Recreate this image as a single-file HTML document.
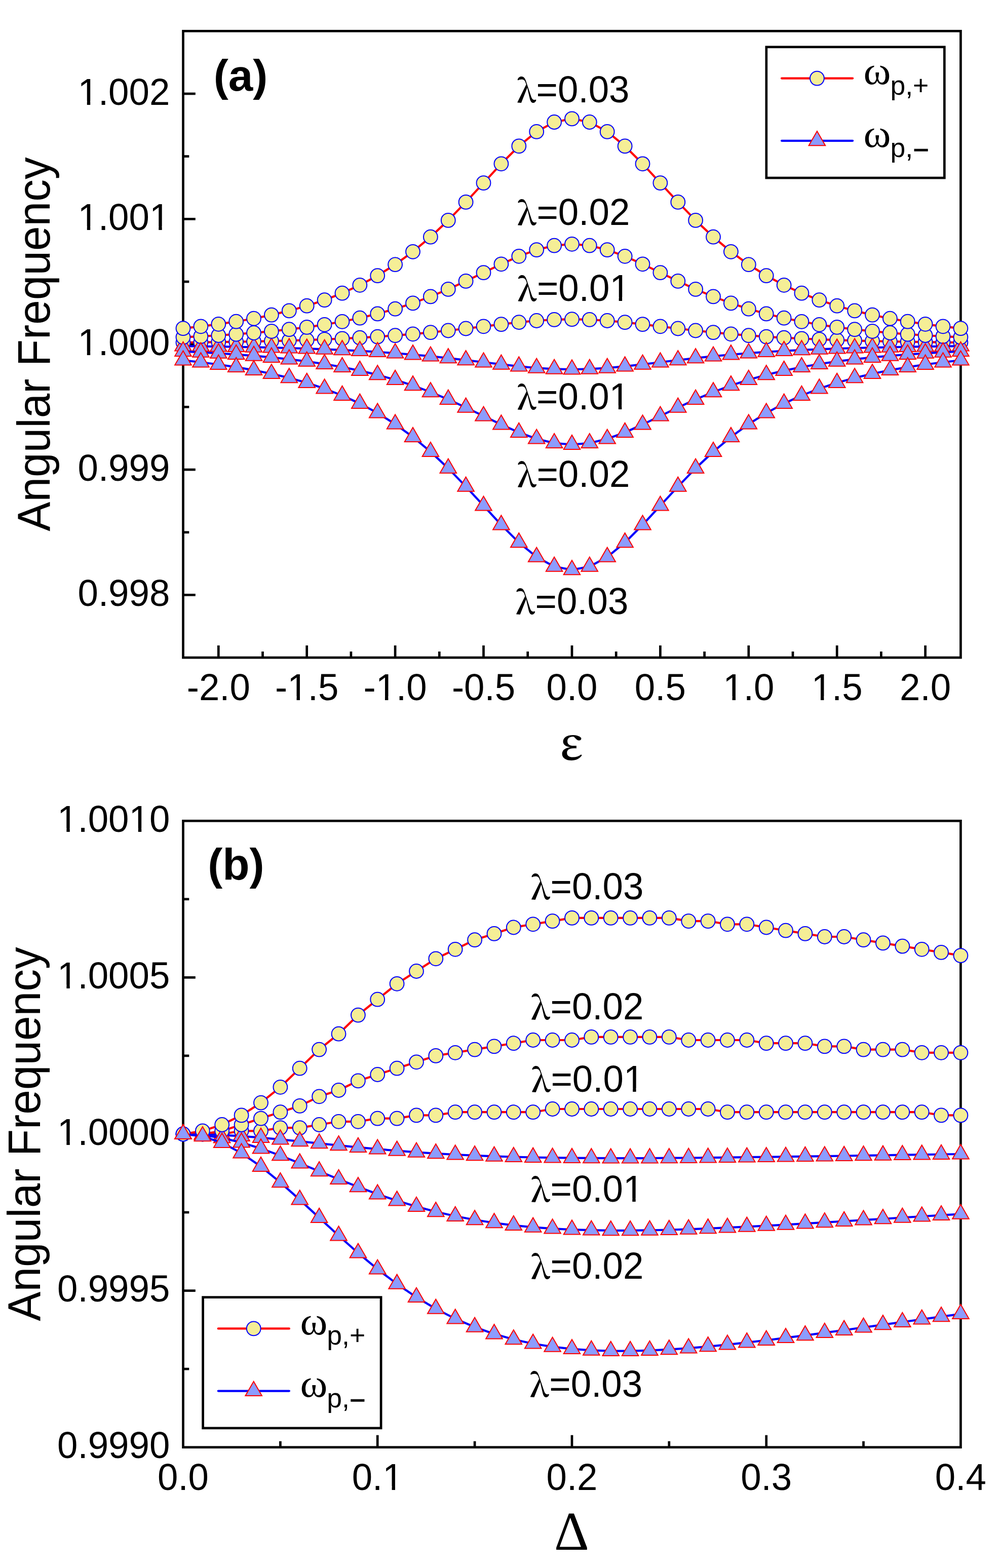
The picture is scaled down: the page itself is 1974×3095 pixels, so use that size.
<!DOCTYPE html>
<html><head><meta charset="utf-8"><title>Angular Frequency</title>
<style>html,body{margin:0;padding:0;background:#fff;}svg{display:block;}</style>
</head><body>
<svg width="1974" height="3095" viewBox="0 0 1974 3095">
<rect width="1974" height="3095" fill="#fff"/>
<g stroke="#000" stroke-width="4.7" fill="none" stroke-linecap="butt">
<line x1="361.5" y1="185.0" x2="385.8" y2="185.0"/>
<line x1="361.5" y1="432.3" x2="385.8" y2="432.3"/>
<line x1="361.5" y1="679.6" x2="385.8" y2="679.6"/>
<line x1="361.5" y1="927.0" x2="385.8" y2="927.0"/>
<line x1="361.5" y1="1174.3" x2="385.8" y2="1174.3"/>
<line x1="361.5" y1="308.6" x2="373.3" y2="308.6"/>
<line x1="361.5" y1="556.0" x2="373.3" y2="556.0"/>
<line x1="361.5" y1="803.3" x2="373.3" y2="803.3"/>
<line x1="361.5" y1="1050.7" x2="373.3" y2="1050.7"/>
<line x1="431.3" y1="1298.0" x2="431.3" y2="1274.0"/>
<line x1="605.7" y1="1298.0" x2="605.7" y2="1274.0"/>
<line x1="780.1" y1="1298.0" x2="780.1" y2="1274.0"/>
<line x1="954.5" y1="1298.0" x2="954.5" y2="1274.0"/>
<line x1="1129.0" y1="1298.0" x2="1129.0" y2="1274.0"/>
<line x1="1303.4" y1="1298.0" x2="1303.4" y2="1274.0"/>
<line x1="1477.8" y1="1298.0" x2="1477.8" y2="1274.0"/>
<line x1="1652.2" y1="1298.0" x2="1652.2" y2="1274.0"/>
<line x1="1826.6" y1="1298.0" x2="1826.6" y2="1274.0"/>
<line x1="518.5" y1="1298.0" x2="518.5" y2="1286.0"/>
<line x1="692.9" y1="1298.0" x2="692.9" y2="1286.0"/>
<line x1="867.3" y1="1298.0" x2="867.3" y2="1286.0"/>
<line x1="1041.7" y1="1298.0" x2="1041.7" y2="1286.0"/>
<line x1="1216.2" y1="1298.0" x2="1216.2" y2="1286.0"/>
<line x1="1390.6" y1="1298.0" x2="1390.6" y2="1286.0"/>
<line x1="1565.0" y1="1298.0" x2="1565.0" y2="1286.0"/>
<line x1="1739.4" y1="1298.0" x2="1739.4" y2="1286.0"/>
<rect x="361.5" y="61.3" width="1534.9" height="1236.7"/>
</g>
<text transform="translate(335.4,206.6) scale(1.0,1.015)" font-family="Liberation Sans, Arial, sans-serif" font-size="72.7" font-weight="normal" text-anchor="end" >1.002</text>
<g transform="translate(335.4,206.6) scale(1.0,1.015)" fill="#fff"><rect x="-177.99" y="-7.10" width="14.38" height="8.70"/><rect x="-157.19" y="-7.10" width="13.81" height="8.70"/></g>
<text transform="translate(335.4,453.9) scale(1.0,1.015)" font-family="Liberation Sans, Arial, sans-serif" font-size="72.7" font-weight="normal" text-anchor="end" >1.001</text>
<g transform="translate(335.4,453.9) scale(1.0,1.015)" fill="#fff"><rect x="-177.99" y="-7.10" width="14.38" height="8.70"/><rect x="-157.19" y="-7.10" width="13.81" height="8.70"/><rect x="-36.53" y="-7.10" width="14.38" height="8.70"/><rect x="-15.72" y="-7.10" width="13.81" height="8.70"/></g>
<text transform="translate(335.4,701.2) scale(1.0,1.015)" font-family="Liberation Sans, Arial, sans-serif" font-size="72.7" font-weight="normal" text-anchor="end" >1.000</text>
<g transform="translate(335.4,701.2) scale(1.0,1.015)" fill="#fff"><rect x="-177.99" y="-7.10" width="14.38" height="8.70"/><rect x="-157.19" y="-7.10" width="13.81" height="8.70"/></g>
<text transform="translate(335.4,948.6) scale(1.0,1.015)" font-family="Liberation Sans, Arial, sans-serif" font-size="72.7" font-weight="normal" text-anchor="end" >0.999</text>
<text transform="translate(335.4,1195.9) scale(1.0,1.015)" font-family="Liberation Sans, Arial, sans-serif" font-size="72.7" font-weight="normal" text-anchor="end" >0.998</text>
<text transform="translate(431.3,1381.8) scale(1.0,1.015)" font-family="Liberation Sans, Arial, sans-serif" font-size="72.7" font-weight="normal" text-anchor="middle" >-2.0</text>
<text transform="translate(605.7,1381.8) scale(1.0,1.015)" font-family="Liberation Sans, Arial, sans-serif" font-size="72.7" font-weight="normal" text-anchor="middle" >-1.5</text>
<g transform="translate(605.7,1381.8) scale(1.0,1.015)" fill="#fff"><rect x="-34.53" y="-7.10" width="14.38" height="8.70"/><rect x="-13.73" y="-7.10" width="13.81" height="8.70"/></g>
<text transform="translate(780.1,1381.8) scale(1.0,1.015)" font-family="Liberation Sans, Arial, sans-serif" font-size="72.7" font-weight="normal" text-anchor="middle" >-1.0</text>
<g transform="translate(780.1,1381.8) scale(1.0,1.015)" fill="#fff"><rect x="-34.53" y="-7.10" width="14.38" height="8.70"/><rect x="-13.73" y="-7.10" width="13.81" height="8.70"/></g>
<text transform="translate(954.5,1381.8) scale(1.0,1.015)" font-family="Liberation Sans, Arial, sans-serif" font-size="72.7" font-weight="normal" text-anchor="middle" >-0.5</text>
<text transform="translate(1129.0,1381.8) scale(1.0,1.015)" font-family="Liberation Sans, Arial, sans-serif" font-size="72.7" font-weight="normal" text-anchor="middle" >0.0</text>
<text transform="translate(1303.4,1381.8) scale(1.0,1.015)" font-family="Liberation Sans, Arial, sans-serif" font-size="72.7" font-weight="normal" text-anchor="middle" >0.5</text>
<text transform="translate(1477.8,1381.8) scale(1.0,1.015)" font-family="Liberation Sans, Arial, sans-serif" font-size="72.7" font-weight="normal" text-anchor="middle" >1.0</text>
<g transform="translate(1477.8,1381.8) scale(1.0,1.015)" fill="#fff"><rect x="-46.62" y="-7.10" width="14.38" height="8.70"/><rect x="-25.82" y="-7.10" width="13.81" height="8.70"/></g>
<text transform="translate(1652.2,1381.8) scale(1.0,1.015)" font-family="Liberation Sans, Arial, sans-serif" font-size="72.7" font-weight="normal" text-anchor="middle" >1.5</text>
<g transform="translate(1652.2,1381.8) scale(1.0,1.015)" fill="#fff"><rect x="-46.62" y="-7.10" width="14.38" height="8.70"/><rect x="-25.82" y="-7.10" width="13.81" height="8.70"/></g>
<text transform="translate(1826.6,1381.8) scale(1.0,1.015)" font-family="Liberation Sans, Arial, sans-serif" font-size="72.7" font-weight="normal" text-anchor="middle" >2.0</text>
<polyline points="361.5,676.1 396.4,675.7 431.3,675.2 466.2,674.7 501.0,674.0 535.9,673.2 570.8,672.3 605.7,671.2 640.6,669.9 675.5,668.4 710.3,666.7 745.2,664.6 780.1,662.2 815.0,659.3 849.9,656.1 884.8,652.5 919.6,648.5 954.5,644.3 989.4,640.1 1024.3,636.2 1059.2,633.0 1094.1,630.9 1129.0,630.2 1163.8,630.9 1198.7,633.0 1233.6,636.2 1268.5,640.1 1303.4,644.3 1338.3,648.5 1373.1,652.5 1408.0,656.1 1442.9,659.3 1477.8,662.2 1512.7,664.6 1547.6,666.7 1582.4,668.4 1617.3,669.9 1652.2,671.2 1687.1,672.3 1722.0,673.2 1756.9,674.0 1791.7,674.7 1826.6,675.2 1861.5,675.7 1896.4,676.1" fill="none" stroke="#FF0000" stroke-width="4.2" stroke-linejoin="round" stroke-linecap="round"/>
<g fill="#F5EE96" stroke="#0000FF" stroke-width="2.0">
<circle cx="361.5" cy="676.1" r="13.9"/>
<circle cx="396.4" cy="675.7" r="13.9"/>
<circle cx="431.3" cy="675.2" r="13.9"/>
<circle cx="466.2" cy="674.7" r="13.9"/>
<circle cx="501.0" cy="674.0" r="13.9"/>
<circle cx="535.9" cy="673.2" r="13.9"/>
<circle cx="570.8" cy="672.3" r="13.9"/>
<circle cx="605.7" cy="671.2" r="13.9"/>
<circle cx="640.6" cy="669.9" r="13.9"/>
<circle cx="675.5" cy="668.4" r="13.9"/>
<circle cx="710.3" cy="666.7" r="13.9"/>
<circle cx="745.2" cy="664.6" r="13.9"/>
<circle cx="780.1" cy="662.2" r="13.9"/>
<circle cx="815.0" cy="659.3" r="13.9"/>
<circle cx="849.9" cy="656.1" r="13.9"/>
<circle cx="884.8" cy="652.5" r="13.9"/>
<circle cx="919.6" cy="648.5" r="13.9"/>
<circle cx="954.5" cy="644.3" r="13.9"/>
<circle cx="989.4" cy="640.1" r="13.9"/>
<circle cx="1024.3" cy="636.2" r="13.9"/>
<circle cx="1059.2" cy="633.0" r="13.9"/>
<circle cx="1094.1" cy="630.9" r="13.9"/>
<circle cx="1129.0" cy="630.2" r="13.9"/>
<circle cx="1163.8" cy="630.9" r="13.9"/>
<circle cx="1198.7" cy="633.0" r="13.9"/>
<circle cx="1233.6" cy="636.2" r="13.9"/>
<circle cx="1268.5" cy="640.1" r="13.9"/>
<circle cx="1303.4" cy="644.3" r="13.9"/>
<circle cx="1338.3" cy="648.5" r="13.9"/>
<circle cx="1373.1" cy="652.5" r="13.9"/>
<circle cx="1408.0" cy="656.1" r="13.9"/>
<circle cx="1442.9" cy="659.3" r="13.9"/>
<circle cx="1477.8" cy="662.2" r="13.9"/>
<circle cx="1512.7" cy="664.6" r="13.9"/>
<circle cx="1547.6" cy="666.7" r="13.9"/>
<circle cx="1582.4" cy="668.4" r="13.9"/>
<circle cx="1617.3" cy="669.9" r="13.9"/>
<circle cx="1652.2" cy="671.2" r="13.9"/>
<circle cx="1687.1" cy="672.3" r="13.9"/>
<circle cx="1722.0" cy="673.2" r="13.9"/>
<circle cx="1756.9" cy="674.0" r="13.9"/>
<circle cx="1791.7" cy="674.7" r="13.9"/>
<circle cx="1826.6" cy="675.2" r="13.9"/>
<circle cx="1861.5" cy="675.7" r="13.9"/>
<circle cx="1896.4" cy="676.1" r="13.9"/>
</g>
<polyline points="361.5,683.2 396.4,683.6 431.3,684.1 466.2,684.6 501.0,685.3 535.9,686.1 570.8,687.0 605.7,688.1 640.6,689.4 675.5,690.9 710.3,692.6 745.2,694.7 780.1,697.1 815.0,700.0 849.9,703.2 884.8,706.8 919.6,710.8 954.5,715.0 989.4,719.2 1024.3,723.1 1059.2,726.3 1094.1,728.4 1129.0,729.1 1163.8,728.4 1198.7,726.3 1233.6,723.1 1268.5,719.2 1303.4,715.0 1338.3,710.8 1373.1,706.8 1408.0,703.2 1442.9,700.0 1477.8,697.1 1512.7,694.7 1547.6,692.6 1582.4,690.9 1617.3,689.4 1652.2,688.1 1687.1,687.0 1722.0,686.1 1756.9,685.3 1791.7,684.6 1826.6,684.1 1861.5,683.6 1896.4,683.2" fill="none" stroke="#0000FF" stroke-width="4.2" stroke-linejoin="round" stroke-linecap="round"/>
<g fill="#8C9CFF" stroke="#FF0000" stroke-width="2.0" stroke-linejoin="miter">
<path d="M361.5,664.3L377.8,692.6L345.2,692.6Z"/>
<path d="M396.4,664.8L412.7,693.0L380.1,693.0Z"/>
<path d="M431.3,665.3L447.6,693.5L415.0,693.5Z"/>
<path d="M466.2,665.8L482.5,694.1L449.9,694.1Z"/>
<path d="M501.0,666.5L517.3,694.7L484.7,694.7Z"/>
<path d="M535.9,667.3L552.2,695.5L519.6,695.5Z"/>
<path d="M570.8,668.2L587.1,696.4L554.5,696.4Z"/>
<path d="M605.7,669.3L622.0,697.5L589.4,697.5Z"/>
<path d="M640.6,670.5L656.9,698.8L624.3,698.8Z"/>
<path d="M675.5,672.0L691.8,700.3L659.2,700.3Z"/>
<path d="M710.3,673.8L726.6,702.0L694.0,702.0Z"/>
<path d="M745.2,675.9L761.5,704.1L728.9,704.1Z"/>
<path d="M780.1,678.3L796.4,706.6L763.8,706.6Z"/>
<path d="M815.0,681.1L831.3,709.4L798.7,709.4Z"/>
<path d="M849.9,684.4L866.2,712.6L833.6,712.6Z"/>
<path d="M884.8,688.0L901.1,716.3L868.5,716.3Z"/>
<path d="M919.6,692.0L935.9,720.3L903.3,720.3Z"/>
<path d="M954.5,696.2L970.8,724.5L938.2,724.5Z"/>
<path d="M989.4,700.4L1005.7,728.7L973.1,728.7Z"/>
<path d="M1024.3,704.3L1040.6,732.5L1008.0,732.5Z"/>
<path d="M1059.2,707.5L1075.5,735.7L1042.9,735.7Z"/>
<path d="M1094.1,709.6L1110.4,737.8L1077.8,737.8Z"/>
<path d="M1129.0,710.3L1145.2,738.5L1112.7,738.5Z"/>
<path d="M1163.8,709.6L1180.1,737.8L1147.5,737.8Z"/>
<path d="M1198.7,707.5L1215.0,735.7L1182.4,735.7Z"/>
<path d="M1233.6,704.3L1249.9,732.5L1217.3,732.5Z"/>
<path d="M1268.5,700.4L1284.8,728.7L1252.2,728.7Z"/>
<path d="M1303.4,696.2L1319.7,724.5L1287.1,724.5Z"/>
<path d="M1338.3,692.0L1354.6,720.3L1322.0,720.3Z"/>
<path d="M1373.1,688.0L1389.4,716.3L1356.8,716.3Z"/>
<path d="M1408.0,684.4L1424.3,712.6L1391.7,712.6Z"/>
<path d="M1442.9,681.1L1459.2,709.4L1426.6,709.4Z"/>
<path d="M1477.8,678.3L1494.1,706.6L1461.5,706.6Z"/>
<path d="M1512.7,675.9L1529.0,704.1L1496.4,704.1Z"/>
<path d="M1547.6,673.8L1563.9,702.0L1531.3,702.0Z"/>
<path d="M1582.4,672.0L1598.7,700.3L1566.1,700.3Z"/>
<path d="M1617.3,670.5L1633.6,698.8L1601.0,698.8Z"/>
<path d="M1652.2,669.3L1668.5,697.5L1635.9,697.5Z"/>
<path d="M1687.1,668.2L1703.4,696.4L1670.8,696.4Z"/>
<path d="M1722.0,667.3L1738.3,695.5L1705.7,695.5Z"/>
<path d="M1756.9,666.5L1773.2,694.7L1740.6,694.7Z"/>
<path d="M1791.7,665.8L1808.0,694.1L1775.4,694.1Z"/>
<path d="M1826.6,665.3L1842.9,693.5L1810.3,693.5Z"/>
<path d="M1861.5,664.8L1877.8,693.0L1845.2,693.0Z"/>
<path d="M1896.4,664.3L1912.7,692.6L1880.1,692.6Z"/>
</g>
<polyline points="361.5,665.6 396.4,663.9 431.3,662.0 466.2,659.7 501.0,657.0 535.9,653.9 570.8,650.2 605.7,645.9 640.6,640.8 675.5,634.8 710.3,627.7 745.2,619.4 780.1,609.7 815.0,598.4 849.9,585.4 884.8,570.9 919.6,554.9 954.5,538.1 989.4,521.3 1024.3,505.8 1059.2,493.1 1094.1,484.7 1129.0,481.8 1163.8,484.7 1198.7,493.1 1233.6,505.8 1268.5,521.3 1303.4,538.1 1338.3,554.9 1373.1,570.9 1408.0,585.4 1442.9,598.4 1477.8,609.7 1512.7,619.4 1547.6,627.7 1582.4,634.8 1617.3,640.8 1652.2,645.9 1687.1,650.2 1722.0,653.9 1756.9,657.0 1791.7,659.7 1826.6,662.0 1861.5,663.9 1896.4,665.6" fill="none" stroke="#FF0000" stroke-width="4.2" stroke-linejoin="round" stroke-linecap="round"/>
<g fill="#F5EE96" stroke="#0000FF" stroke-width="2.0">
<circle cx="361.5" cy="665.6" r="13.9"/>
<circle cx="396.4" cy="663.9" r="13.9"/>
<circle cx="431.3" cy="662.0" r="13.9"/>
<circle cx="466.2" cy="659.7" r="13.9"/>
<circle cx="501.0" cy="657.0" r="13.9"/>
<circle cx="535.9" cy="653.9" r="13.9"/>
<circle cx="570.8" cy="650.2" r="13.9"/>
<circle cx="605.7" cy="645.9" r="13.9"/>
<circle cx="640.6" cy="640.8" r="13.9"/>
<circle cx="675.5" cy="634.8" r="13.9"/>
<circle cx="710.3" cy="627.7" r="13.9"/>
<circle cx="745.2" cy="619.4" r="13.9"/>
<circle cx="780.1" cy="609.7" r="13.9"/>
<circle cx="815.0" cy="598.4" r="13.9"/>
<circle cx="849.9" cy="585.4" r="13.9"/>
<circle cx="884.8" cy="570.9" r="13.9"/>
<circle cx="919.6" cy="554.9" r="13.9"/>
<circle cx="954.5" cy="538.1" r="13.9"/>
<circle cx="989.4" cy="521.3" r="13.9"/>
<circle cx="1024.3" cy="505.8" r="13.9"/>
<circle cx="1059.2" cy="493.1" r="13.9"/>
<circle cx="1094.1" cy="484.7" r="13.9"/>
<circle cx="1129.0" cy="481.8" r="13.9"/>
<circle cx="1163.8" cy="484.7" r="13.9"/>
<circle cx="1198.7" cy="493.1" r="13.9"/>
<circle cx="1233.6" cy="505.8" r="13.9"/>
<circle cx="1268.5" cy="521.3" r="13.9"/>
<circle cx="1303.4" cy="538.1" r="13.9"/>
<circle cx="1338.3" cy="554.9" r="13.9"/>
<circle cx="1373.1" cy="570.9" r="13.9"/>
<circle cx="1408.0" cy="585.4" r="13.9"/>
<circle cx="1442.9" cy="598.4" r="13.9"/>
<circle cx="1477.8" cy="609.7" r="13.9"/>
<circle cx="1512.7" cy="619.4" r="13.9"/>
<circle cx="1547.6" cy="627.7" r="13.9"/>
<circle cx="1582.4" cy="634.8" r="13.9"/>
<circle cx="1617.3" cy="640.8" r="13.9"/>
<circle cx="1652.2" cy="645.9" r="13.9"/>
<circle cx="1687.1" cy="650.2" r="13.9"/>
<circle cx="1722.0" cy="653.9" r="13.9"/>
<circle cx="1756.9" cy="657.0" r="13.9"/>
<circle cx="1791.7" cy="659.7" r="13.9"/>
<circle cx="1826.6" cy="662.0" r="13.9"/>
<circle cx="1861.5" cy="663.9" r="13.9"/>
<circle cx="1896.4" cy="665.6" r="13.9"/>
</g>
<polyline points="361.5,693.7 396.4,695.4 431.3,697.3 466.2,699.6 501.0,702.3 535.9,705.4 570.8,709.1 605.7,713.4 640.6,718.5 675.5,724.5 710.3,731.6 745.2,739.9 780.1,749.6 815.0,760.9 849.9,773.9 884.8,788.4 919.6,804.4 954.5,821.2 989.4,838.0 1024.3,853.5 1059.2,866.2 1094.1,874.6 1129.0,877.5 1163.8,874.6 1198.7,866.2 1233.6,853.5 1268.5,838.0 1303.4,821.2 1338.3,804.4 1373.1,788.4 1408.0,773.9 1442.9,760.9 1477.8,749.6 1512.7,739.9 1547.6,731.6 1582.4,724.5 1617.3,718.5 1652.2,713.4 1687.1,709.1 1722.0,705.4 1756.9,702.3 1791.7,699.6 1826.6,697.3 1861.5,695.4 1896.4,693.7" fill="none" stroke="#0000FF" stroke-width="4.2" stroke-linejoin="round" stroke-linecap="round"/>
<g fill="#8C9CFF" stroke="#FF0000" stroke-width="2.0" stroke-linejoin="miter">
<path d="M361.5,674.8L377.8,703.1L345.2,703.1Z"/>
<path d="M396.4,676.6L412.7,704.8L380.1,704.8Z"/>
<path d="M431.3,678.5L447.6,706.8L415.0,706.8Z"/>
<path d="M466.2,680.8L482.5,709.1L449.9,709.1Z"/>
<path d="M501.0,683.5L517.3,711.7L484.7,711.7Z"/>
<path d="M535.9,686.6L552.2,714.9L519.6,714.9Z"/>
<path d="M570.8,690.3L587.1,718.5L554.5,718.5Z"/>
<path d="M605.7,694.6L622.0,722.8L589.4,722.8Z"/>
<path d="M640.6,699.7L656.9,727.9L624.3,727.9Z"/>
<path d="M675.5,705.7L691.8,733.9L659.2,733.9Z"/>
<path d="M710.3,712.7L726.6,741.0L694.0,741.0Z"/>
<path d="M745.2,721.1L761.5,749.3L728.9,749.3Z"/>
<path d="M780.1,730.8L796.4,759.0L763.8,759.0Z"/>
<path d="M815.0,742.1L831.3,770.3L798.7,770.3Z"/>
<path d="M849.9,755.0L866.2,783.3L833.6,783.3Z"/>
<path d="M884.8,769.6L901.1,797.9L868.5,797.9Z"/>
<path d="M919.6,785.6L935.9,813.8L903.3,813.8Z"/>
<path d="M954.5,802.4L970.8,830.6L938.2,830.6Z"/>
<path d="M989.4,819.2L1005.7,847.4L973.1,847.4Z"/>
<path d="M1024.3,834.7L1040.6,862.9L1008.0,862.9Z"/>
<path d="M1059.2,847.4L1075.5,875.6L1042.9,875.6Z"/>
<path d="M1094.1,855.8L1110.4,884.0L1077.8,884.0Z"/>
<path d="M1129.0,858.7L1145.2,886.9L1112.7,886.9Z"/>
<path d="M1163.8,855.8L1180.1,884.0L1147.5,884.0Z"/>
<path d="M1198.7,847.4L1215.0,875.6L1182.4,875.6Z"/>
<path d="M1233.6,834.7L1249.9,862.9L1217.3,862.9Z"/>
<path d="M1268.5,819.2L1284.8,847.4L1252.2,847.4Z"/>
<path d="M1303.4,802.4L1319.7,830.6L1287.1,830.6Z"/>
<path d="M1338.3,785.6L1354.6,813.8L1322.0,813.8Z"/>
<path d="M1373.1,769.6L1389.4,797.9L1356.8,797.9Z"/>
<path d="M1408.0,755.0L1424.3,783.3L1391.7,783.3Z"/>
<path d="M1442.9,742.1L1459.2,770.3L1426.6,770.3Z"/>
<path d="M1477.8,730.8L1494.1,759.0L1461.5,759.0Z"/>
<path d="M1512.7,721.1L1529.0,749.3L1496.4,749.3Z"/>
<path d="M1547.6,712.7L1563.9,741.0L1531.3,741.0Z"/>
<path d="M1582.4,705.7L1598.7,733.9L1566.1,733.9Z"/>
<path d="M1617.3,699.7L1633.6,727.9L1601.0,727.9Z"/>
<path d="M1652.2,694.6L1668.5,722.8L1635.9,722.8Z"/>
<path d="M1687.1,690.3L1703.4,718.5L1670.8,718.5Z"/>
<path d="M1722.0,686.6L1738.3,714.9L1705.7,714.9Z"/>
<path d="M1756.9,683.5L1773.2,711.7L1740.6,711.7Z"/>
<path d="M1791.7,680.8L1808.0,709.1L1775.4,709.1Z"/>
<path d="M1826.6,678.5L1842.9,706.8L1810.3,706.8Z"/>
<path d="M1861.5,676.6L1877.8,704.8L1845.2,704.8Z"/>
<path d="M1896.4,674.8L1912.7,703.1L1880.1,703.1Z"/>
</g>
<polyline points="361.5,648.1 396.4,644.3 431.3,639.8 466.2,634.7 501.0,628.7 535.9,621.6 570.8,613.4 605.7,603.7 640.6,592.2 675.5,578.7 710.3,562.8 745.2,544.1 780.1,522.2 815.0,496.8 849.9,467.7 884.8,434.9 919.6,398.9 954.5,361.1 989.4,323.3 1024.3,288.4 1059.2,259.9 1094.1,241.0 1129.0,234.4 1163.8,241.0 1198.7,259.9 1233.6,288.4 1268.5,323.3 1303.4,361.1 1338.3,398.9 1373.1,434.9 1408.0,467.7 1442.9,496.8 1477.8,522.2 1512.7,544.1 1547.6,562.8 1582.4,578.7 1617.3,592.2 1652.2,603.7 1687.1,613.4 1722.0,621.6 1756.9,628.7 1791.7,634.7 1826.6,639.8 1861.5,644.3 1896.4,648.1" fill="none" stroke="#FF0000" stroke-width="4.2" stroke-linejoin="round" stroke-linecap="round"/>
<g fill="#F5EE96" stroke="#0000FF" stroke-width="2.0">
<circle cx="361.5" cy="648.1" r="13.9"/>
<circle cx="396.4" cy="644.3" r="13.9"/>
<circle cx="431.3" cy="639.8" r="13.9"/>
<circle cx="466.2" cy="634.7" r="13.9"/>
<circle cx="501.0" cy="628.7" r="13.9"/>
<circle cx="535.9" cy="621.6" r="13.9"/>
<circle cx="570.8" cy="613.4" r="13.9"/>
<circle cx="605.7" cy="603.7" r="13.9"/>
<circle cx="640.6" cy="592.2" r="13.9"/>
<circle cx="675.5" cy="578.7" r="13.9"/>
<circle cx="710.3" cy="562.8" r="13.9"/>
<circle cx="745.2" cy="544.1" r="13.9"/>
<circle cx="780.1" cy="522.2" r="13.9"/>
<circle cx="815.0" cy="496.8" r="13.9"/>
<circle cx="849.9" cy="467.7" r="13.9"/>
<circle cx="884.8" cy="434.9" r="13.9"/>
<circle cx="919.6" cy="398.9" r="13.9"/>
<circle cx="954.5" cy="361.1" r="13.9"/>
<circle cx="989.4" cy="323.3" r="13.9"/>
<circle cx="1024.3" cy="288.4" r="13.9"/>
<circle cx="1059.2" cy="259.9" r="13.9"/>
<circle cx="1094.1" cy="241.0" r="13.9"/>
<circle cx="1129.0" cy="234.4" r="13.9"/>
<circle cx="1163.8" cy="241.0" r="13.9"/>
<circle cx="1198.7" cy="259.9" r="13.9"/>
<circle cx="1233.6" cy="288.4" r="13.9"/>
<circle cx="1268.5" cy="323.3" r="13.9"/>
<circle cx="1303.4" cy="361.1" r="13.9"/>
<circle cx="1338.3" cy="398.9" r="13.9"/>
<circle cx="1373.1" cy="434.9" r="13.9"/>
<circle cx="1408.0" cy="467.7" r="13.9"/>
<circle cx="1442.9" cy="496.8" r="13.9"/>
<circle cx="1477.8" cy="522.2" r="13.9"/>
<circle cx="1512.7" cy="544.1" r="13.9"/>
<circle cx="1547.6" cy="562.8" r="13.9"/>
<circle cx="1582.4" cy="578.7" r="13.9"/>
<circle cx="1617.3" cy="592.2" r="13.9"/>
<circle cx="1652.2" cy="603.7" r="13.9"/>
<circle cx="1687.1" cy="613.4" r="13.9"/>
<circle cx="1722.0" cy="621.6" r="13.9"/>
<circle cx="1756.9" cy="628.7" r="13.9"/>
<circle cx="1791.7" cy="634.7" r="13.9"/>
<circle cx="1826.6" cy="639.8" r="13.9"/>
<circle cx="1861.5" cy="644.3" r="13.9"/>
<circle cx="1896.4" cy="648.1" r="13.9"/>
</g>
<polyline points="361.5,711.2 396.4,715.0 431.3,719.5 466.2,724.6 501.0,730.6 535.9,737.7 570.8,745.9 605.7,755.6 640.6,767.1 675.5,780.6 710.3,796.5 745.2,815.2 780.1,837.1 815.0,862.5 849.9,891.6 884.8,924.4 919.6,960.4 954.5,998.2 989.4,1036.0 1024.3,1070.9 1059.2,1099.4 1094.1,1118.3 1129.0,1124.9 1163.8,1118.3 1198.7,1099.4 1233.6,1070.9 1268.5,1036.0 1303.4,998.2 1338.3,960.4 1373.1,924.4 1408.0,891.6 1442.9,862.5 1477.8,837.1 1512.7,815.2 1547.6,796.5 1582.4,780.6 1617.3,767.1 1652.2,755.6 1687.1,745.9 1722.0,737.7 1756.9,730.6 1791.7,724.6 1826.6,719.5 1861.5,715.0 1896.4,711.2" fill="none" stroke="#0000FF" stroke-width="4.2" stroke-linejoin="round" stroke-linecap="round"/>
<g fill="#8C9CFF" stroke="#FF0000" stroke-width="2.0" stroke-linejoin="miter">
<path d="M361.5,692.4L377.8,720.6L345.2,720.6Z"/>
<path d="M396.4,696.2L412.7,724.4L380.1,724.4Z"/>
<path d="M431.3,700.6L447.6,728.9L415.0,728.9Z"/>
<path d="M466.2,705.8L482.5,734.0L449.9,734.0Z"/>
<path d="M501.0,711.8L517.3,740.1L484.7,740.1Z"/>
<path d="M535.9,718.9L552.2,747.1L519.6,747.1Z"/>
<path d="M570.8,727.1L587.1,755.3L554.5,755.3Z"/>
<path d="M605.7,736.8L622.0,765.0L589.4,765.0Z"/>
<path d="M640.6,748.3L656.9,776.5L624.3,776.5Z"/>
<path d="M675.5,761.7L691.8,790.0L659.2,790.0Z"/>
<path d="M710.3,777.6L726.6,805.9L694.0,805.9Z"/>
<path d="M745.2,796.3L761.5,824.6L728.9,824.6Z"/>
<path d="M780.1,818.2L796.4,846.5L763.8,846.5Z"/>
<path d="M815.0,843.7L831.3,871.9L798.7,871.9Z"/>
<path d="M849.9,872.8L866.2,901.0L833.6,901.0Z"/>
<path d="M884.8,905.6L901.1,933.8L868.5,933.8Z"/>
<path d="M919.6,941.5L935.9,969.8L903.3,969.8Z"/>
<path d="M954.5,979.4L970.8,1007.6L938.2,1007.6Z"/>
<path d="M989.4,1017.2L1005.7,1045.4L973.1,1045.4Z"/>
<path d="M1024.3,1052.1L1040.6,1080.3L1008.0,1080.3Z"/>
<path d="M1059.2,1080.6L1075.5,1108.8L1042.9,1108.8Z"/>
<path d="M1094.1,1099.4L1110.4,1127.7L1077.8,1127.7Z"/>
<path d="M1129.0,1106.0L1145.2,1134.3L1112.7,1134.3Z"/>
<path d="M1163.8,1099.4L1180.1,1127.7L1147.5,1127.7Z"/>
<path d="M1198.7,1080.6L1215.0,1108.8L1182.4,1108.8Z"/>
<path d="M1233.6,1052.1L1249.9,1080.3L1217.3,1080.3Z"/>
<path d="M1268.5,1017.2L1284.8,1045.4L1252.2,1045.4Z"/>
<path d="M1303.4,979.4L1319.7,1007.6L1287.1,1007.6Z"/>
<path d="M1338.3,941.5L1354.6,969.8L1322.0,969.8Z"/>
<path d="M1373.1,905.6L1389.4,933.8L1356.8,933.8Z"/>
<path d="M1408.0,872.8L1424.3,901.0L1391.7,901.0Z"/>
<path d="M1442.9,843.7L1459.2,871.9L1426.6,871.9Z"/>
<path d="M1477.8,818.2L1494.1,846.5L1461.5,846.5Z"/>
<path d="M1512.7,796.3L1529.0,824.6L1496.4,824.6Z"/>
<path d="M1547.6,777.6L1563.9,805.9L1531.3,805.9Z"/>
<path d="M1582.4,761.7L1598.7,790.0L1566.1,790.0Z"/>
<path d="M1617.3,748.3L1633.6,776.5L1601.0,776.5Z"/>
<path d="M1652.2,736.8L1668.5,765.0L1635.9,765.0Z"/>
<path d="M1687.1,727.1L1703.4,755.3L1670.8,755.3Z"/>
<path d="M1722.0,718.9L1738.3,747.1L1705.7,747.1Z"/>
<path d="M1756.9,711.8L1773.2,740.1L1740.6,740.1Z"/>
<path d="M1791.7,705.8L1808.0,734.0L1775.4,734.0Z"/>
<path d="M1826.6,700.6L1842.9,728.9L1810.3,728.9Z"/>
<path d="M1861.5,696.2L1877.8,724.4L1845.2,724.4Z"/>
<path d="M1896.4,692.4L1912.7,720.6L1880.1,720.6Z"/>
</g>
<text x="1019.9" y="201.5" font-family="'Noto Serif CJK SC', 'Noto Serif CJK JP', 'Liberation Serif', serif" font-size="62.5" font-weight="600">λ</text>
<text transform="translate(1058.6,201.5) scale(1.0,1.015)" font-family="Liberation Sans, Arial, sans-serif" font-size="72.7" font-weight="normal" text-anchor="start" >=0.03</text>
<text x="1020.7" y="444.3" font-family="'Noto Serif CJK SC', 'Noto Serif CJK JP', 'Liberation Serif', serif" font-size="62.5" font-weight="600">λ</text>
<text transform="translate(1059.4,444.3) scale(1.0,1.015)" font-family="Liberation Sans, Arial, sans-serif" font-size="72.7" font-weight="normal" text-anchor="start" >=0.02</text>
<text x="1021.2" y="593.6" font-family="'Noto Serif CJK SC', 'Noto Serif CJK JP', 'Liberation Serif', serif" font-size="62.5" font-weight="600">λ</text>
<text transform="translate(1059.9,593.6) scale(1.0,1.015)" font-family="Liberation Sans, Arial, sans-serif" font-size="72.7" font-weight="normal" text-anchor="start" >=0.01</text>
<g transform="translate(1059.9,593.6) scale(1.0,1.015)" fill="#fff"><rect x="147.39" y="-7.10" width="14.38" height="8.70"/><rect x="168.19" y="-7.10" width="13.81" height="8.70"/></g>
<text x="1020.4" y="807.7" font-family="'Noto Serif CJK SC', 'Noto Serif CJK JP', 'Liberation Serif', serif" font-size="62.5" font-weight="600">λ</text>
<text transform="translate(1059.1,807.7) scale(1.0,1.015)" font-family="Liberation Sans, Arial, sans-serif" font-size="72.7" font-weight="normal" text-anchor="start" >=0.01</text>
<g transform="translate(1059.1,807.7) scale(1.0,1.015)" fill="#fff"><rect x="147.39" y="-7.10" width="14.38" height="8.70"/><rect x="168.19" y="-7.10" width="13.81" height="8.70"/></g>
<text x="1020.7" y="960.9" font-family="'Noto Serif CJK SC', 'Noto Serif CJK JP', 'Liberation Serif', serif" font-size="62.5" font-weight="600">λ</text>
<text transform="translate(1059.4,960.9) scale(1.0,1.015)" font-family="Liberation Sans, Arial, sans-serif" font-size="72.7" font-weight="normal" text-anchor="start" >=0.02</text>
<text x="1017.8" y="1211.7" font-family="'Noto Serif CJK SC', 'Noto Serif CJK JP', 'Liberation Serif', serif" font-size="62.5" font-weight="600">λ</text>
<text transform="translate(1056.5,1211.7) scale(1.0,1.015)" font-family="Liberation Sans, Arial, sans-serif" font-size="72.7" font-weight="normal" text-anchor="start" >=0.03</text>
<text transform="translate(421.7,178.6) scale(1.0,1.0)" font-family="Liberation Sans, Arial, sans-serif" font-size="87.3" font-weight="bold" text-anchor="start" >(a)</text>
<text transform="translate(98.1,1048.8) rotate(-90) scale(1,1.033)" font-family="Liberation Sans, Arial, sans-serif" font-size="87.4" text-anchor="start">Angular Frequency</text>
<text x="1105.6" y="1499.7" font-family="'Noto Serif CJK SC', 'Noto Serif CJK JP', 'Liberation Serif', serif" font-size="89" font-weight="600">ε</text>
<g transform="translate(0.0,0.0)">
<rect x="1512.8" y="92.8" width="351.5" height="258.3" fill="#fff" stroke="#000" stroke-width="4.7"/>
<line x1="1543.0" y1="154.6" x2="1683.1" y2="154.6" stroke="#FF0000" stroke-width="4.2" stroke-linecap="round"/>
<circle cx="1612.9" cy="154.6" r="13.9" fill="#F5EE96" stroke="#0000FF" stroke-width="2.0"/>
<line x1="1543.0" y1="277.8" x2="1683.1" y2="277.8" stroke="#0000FF" stroke-width="4.2" stroke-linecap="round"/>
<g fill="#8C9CFF" stroke="#FF0000" stroke-width="2.0">
<path d="M1612.9,259.0L1629.2,287.2L1596.6,287.2Z"/>
</g>
<text transform="translate(1704.6,166.2) scale(1.05,1.0)" font-family="Liberation Serif, Times New Roman, serif" font-size="78" font-weight="normal" text-anchor="start" >ω</text>
<text transform="translate(1757.5,186.5)" font-family="Liberation Sans, Arial, sans-serif" font-size="53.5">p,+</text>
<text transform="translate(1704.6,289.6) scale(1.05,1.0)" font-family="Liberation Serif, Times New Roman, serif" font-size="78" font-weight="normal" text-anchor="start" >ω</text>
<text transform="translate(1757.5,309.9)" font-family="Liberation Sans, Arial, sans-serif" font-size="53.5">p,<tspan dy="4.3" stroke="#000" stroke-width="1.2">−</tspan></text>
</g>
<g stroke="#000" stroke-width="4.7" fill="none" stroke-linecap="butt">
<line x1="361.5" y1="1929.4" x2="385.8" y2="1929.4"/>
<line x1="361.5" y1="2238.5" x2="385.8" y2="2238.5"/>
<line x1="361.5" y1="2547.6" x2="385.8" y2="2547.6"/>
<line x1="361.5" y1="1774.8" x2="373.3" y2="1774.8"/>
<line x1="361.5" y1="2083.9" x2="373.3" y2="2083.9"/>
<line x1="361.5" y1="2393.0" x2="373.3" y2="2393.0"/>
<line x1="361.5" y1="2702.1" x2="373.3" y2="2702.1"/>
<line x1="745.2" y1="2856.7" x2="745.2" y2="2832.7"/>
<line x1="1129.0" y1="2856.7" x2="1129.0" y2="2832.7"/>
<line x1="1512.7" y1="2856.7" x2="1512.7" y2="2832.7"/>
<line x1="553.4" y1="2856.7" x2="553.4" y2="2844.7"/>
<line x1="937.1" y1="2856.7" x2="937.1" y2="2844.7"/>
<line x1="1320.8" y1="2856.7" x2="1320.8" y2="2844.7"/>
<line x1="1704.5" y1="2856.7" x2="1704.5" y2="2844.7"/>
<rect x="361.5" y="1620.3" width="1534.9" height="1236.4"/>
</g>
<text transform="translate(335.4,1641.9) scale(1.0,1.015)" font-family="Liberation Sans, Arial, sans-serif" font-size="72.7" font-weight="normal" text-anchor="end" >1.0010</text>
<g transform="translate(335.4,1641.9) scale(1.0,1.015)" fill="#fff"><rect x="-218.42" y="-7.10" width="14.38" height="8.70"/><rect x="-197.62" y="-7.10" width="13.81" height="8.70"/><rect x="-76.96" y="-7.10" width="14.38" height="8.70"/><rect x="-56.15" y="-7.10" width="13.81" height="8.70"/></g>
<text transform="translate(335.4,1951.0) scale(1.0,1.015)" font-family="Liberation Sans, Arial, sans-serif" font-size="72.7" font-weight="normal" text-anchor="end" >1.0005</text>
<g transform="translate(335.4,1951.0) scale(1.0,1.015)" fill="#fff"><rect x="-218.42" y="-7.10" width="14.38" height="8.70"/><rect x="-197.62" y="-7.10" width="13.81" height="8.70"/></g>
<text transform="translate(335.4,2260.1) scale(1.0,1.015)" font-family="Liberation Sans, Arial, sans-serif" font-size="72.7" font-weight="normal" text-anchor="end" >1.0000</text>
<g transform="translate(335.4,2260.1) scale(1.0,1.015)" fill="#fff"><rect x="-218.42" y="-7.10" width="14.38" height="8.70"/><rect x="-197.62" y="-7.10" width="13.81" height="8.70"/></g>
<text transform="translate(335.4,2569.2) scale(1.0,1.015)" font-family="Liberation Sans, Arial, sans-serif" font-size="72.7" font-weight="normal" text-anchor="end" >0.9995</text>
<text transform="translate(335.4,2878.3) scale(1.0,1.015)" font-family="Liberation Sans, Arial, sans-serif" font-size="72.7" font-weight="normal" text-anchor="end" >0.9990</text>
<text transform="translate(361.5,2940.8) scale(1.0,1.015)" font-family="Liberation Sans, Arial, sans-serif" font-size="72.7" font-weight="normal" text-anchor="middle" >0.0</text>
<text transform="translate(745.2,2940.8) scale(1.0,1.015)" font-family="Liberation Sans, Arial, sans-serif" font-size="72.7" font-weight="normal" text-anchor="middle" >0.1</text>
<g transform="translate(745.2,2940.8) scale(1.0,1.015)" fill="#fff"><rect x="13.99" y="-7.10" width="14.38" height="8.70"/><rect x="34.79" y="-7.10" width="13.81" height="8.70"/></g>
<text transform="translate(1129.0,2940.8) scale(1.0,1.015)" font-family="Liberation Sans, Arial, sans-serif" font-size="72.7" font-weight="normal" text-anchor="middle" >0.2</text>
<text transform="translate(1512.7,2940.8) scale(1.0,1.015)" font-family="Liberation Sans, Arial, sans-serif" font-size="72.7" font-weight="normal" text-anchor="middle" >0.3</text>
<text transform="translate(1896.4,2940.8) scale(1.0,1.015)" font-family="Liberation Sans, Arial, sans-serif" font-size="72.7" font-weight="normal" text-anchor="middle" >0.4</text>
<polyline points="361.5,2238.5 399.9,2238.5 438.2,2238.5 476.6,2232.3 515.0,2232.3 553.4,2226.1 591.7,2226.1 630.1,2220.0 668.5,2213.8 706.9,2213.8 745.2,2207.6 783.6,2207.6 822.0,2201.4 860.3,2201.4 898.7,2195.2 937.1,2195.2 975.5,2195.2 1013.8,2195.2 1052.2,2195.2 1090.6,2189.0 1129.0,2189.0 1167.3,2189.0 1205.7,2189.0 1244.1,2189.0 1282.4,2189.0 1320.8,2189.0 1359.2,2189.0 1397.6,2189.0 1435.9,2195.2 1474.3,2195.2 1512.7,2195.2 1551.0,2195.2 1589.4,2195.2 1627.8,2195.2 1666.2,2195.2 1704.5,2195.2 1742.9,2195.2 1781.3,2195.2 1819.7,2195.2 1858.0,2201.4 1896.4,2201.4" fill="none" stroke="#FF0000" stroke-width="4.2" stroke-linejoin="round" stroke-linecap="round"/>
<g fill="#F5EE96" stroke="#0000FF" stroke-width="2.0">
<circle cx="361.5" cy="2238.5" r="13.9"/>
<circle cx="399.9" cy="2238.5" r="13.9"/>
<circle cx="438.2" cy="2238.5" r="13.9"/>
<circle cx="476.6" cy="2232.3" r="13.9"/>
<circle cx="515.0" cy="2232.3" r="13.9"/>
<circle cx="553.4" cy="2226.1" r="13.9"/>
<circle cx="591.7" cy="2226.1" r="13.9"/>
<circle cx="630.1" cy="2220.0" r="13.9"/>
<circle cx="668.5" cy="2213.8" r="13.9"/>
<circle cx="706.9" cy="2213.8" r="13.9"/>
<circle cx="745.2" cy="2207.6" r="13.9"/>
<circle cx="783.6" cy="2207.6" r="13.9"/>
<circle cx="822.0" cy="2201.4" r="13.9"/>
<circle cx="860.3" cy="2201.4" r="13.9"/>
<circle cx="898.7" cy="2195.2" r="13.9"/>
<circle cx="937.1" cy="2195.2" r="13.9"/>
<circle cx="975.5" cy="2195.2" r="13.9"/>
<circle cx="1013.8" cy="2195.2" r="13.9"/>
<circle cx="1052.2" cy="2195.2" r="13.9"/>
<circle cx="1090.6" cy="2189.0" r="13.9"/>
<circle cx="1129.0" cy="2189.0" r="13.9"/>
<circle cx="1167.3" cy="2189.0" r="13.9"/>
<circle cx="1205.7" cy="2189.0" r="13.9"/>
<circle cx="1244.1" cy="2189.0" r="13.9"/>
<circle cx="1282.4" cy="2189.0" r="13.9"/>
<circle cx="1320.8" cy="2189.0" r="13.9"/>
<circle cx="1359.2" cy="2189.0" r="13.9"/>
<circle cx="1397.6" cy="2189.0" r="13.9"/>
<circle cx="1435.9" cy="2195.2" r="13.9"/>
<circle cx="1474.3" cy="2195.2" r="13.9"/>
<circle cx="1512.7" cy="2195.2" r="13.9"/>
<circle cx="1551.0" cy="2195.2" r="13.9"/>
<circle cx="1589.4" cy="2195.2" r="13.9"/>
<circle cx="1627.8" cy="2195.2" r="13.9"/>
<circle cx="1666.2" cy="2195.2" r="13.9"/>
<circle cx="1704.5" cy="2195.2" r="13.9"/>
<circle cx="1742.9" cy="2195.2" r="13.9"/>
<circle cx="1781.3" cy="2195.2" r="13.9"/>
<circle cx="1819.7" cy="2195.2" r="13.9"/>
<circle cx="1858.0" cy="2201.4" r="13.9"/>
<circle cx="1896.4" cy="2201.4" r="13.9"/>
</g>
<polyline points="361.5,2238.5 399.9,2239.0 438.2,2240.4 476.6,2242.7 515.0,2245.6 553.4,2249.1 591.7,2252.9 630.1,2256.8 668.5,2260.8 706.9,2264.6 745.2,2268.1 783.6,2271.4 822.0,2274.3 860.3,2276.8 898.7,2279.0 937.1,2280.8 975.5,2282.3 1013.8,2283.5 1052.2,2284.5 1090.6,2285.2 1129.0,2285.6 1167.3,2285.9 1205.7,2286.1 1244.1,2286.1 1282.4,2286.0 1320.8,2285.7 1359.2,2285.5 1397.6,2285.1 1435.9,2284.7 1474.3,2284.2 1512.7,2283.7 1551.0,2283.2 1589.4,2282.6 1627.8,2282.1 1666.2,2281.5 1704.5,2280.9 1742.9,2280.3 1781.3,2279.7 1819.7,2279.1 1858.0,2278.5 1896.4,2278.0" fill="none" stroke="#0000FF" stroke-width="4.2" stroke-linejoin="round" stroke-linecap="round"/>
<g fill="#8C9CFF" stroke="#FF0000" stroke-width="2.0" stroke-linejoin="miter">
<path d="M361.5,2219.7L377.8,2247.9L345.2,2247.9Z"/>
<path d="M399.9,2220.2L416.2,2248.4L383.6,2248.4Z"/>
<path d="M438.2,2221.6L454.5,2249.8L421.9,2249.8Z"/>
<path d="M476.6,2223.8L492.9,2252.1L460.3,2252.1Z"/>
<path d="M515.0,2226.8L531.3,2255.0L498.7,2255.0Z"/>
<path d="M553.4,2230.3L569.7,2258.5L537.1,2258.5Z"/>
<path d="M591.7,2234.1L608.0,2262.3L575.4,2262.3Z"/>
<path d="M630.1,2238.0L646.4,2266.3L613.8,2266.3Z"/>
<path d="M668.5,2242.0L684.8,2270.2L652.2,2270.2Z"/>
<path d="M706.9,2245.8L723.2,2274.0L690.6,2274.0Z"/>
<path d="M745.2,2249.3L761.5,2277.5L728.9,2277.5Z"/>
<path d="M783.6,2252.6L799.9,2280.8L767.3,2280.8Z"/>
<path d="M822.0,2255.5L838.3,2283.7L805.7,2283.7Z"/>
<path d="M860.3,2258.0L876.6,2286.2L844.0,2286.2Z"/>
<path d="M898.7,2260.2L915.0,2288.4L882.4,2288.4Z"/>
<path d="M937.1,2262.0L953.4,2290.2L920.8,2290.2Z"/>
<path d="M975.5,2263.5L991.8,2291.7L959.2,2291.7Z"/>
<path d="M1013.8,2264.7L1030.1,2292.9L997.5,2292.9Z"/>
<path d="M1052.2,2265.6L1068.5,2293.9L1035.9,2293.9Z"/>
<path d="M1090.6,2266.3L1106.9,2294.6L1074.3,2294.6Z"/>
<path d="M1129.0,2266.8L1145.2,2295.0L1112.7,2295.0Z"/>
<path d="M1167.3,2267.1L1183.6,2295.3L1151.0,2295.3Z"/>
<path d="M1205.7,2267.3L1222.0,2295.5L1189.4,2295.5Z"/>
<path d="M1244.1,2267.3L1260.4,2295.5L1227.8,2295.5Z"/>
<path d="M1282.4,2267.1L1298.7,2295.4L1266.1,2295.4Z"/>
<path d="M1320.8,2266.9L1337.1,2295.2L1304.5,2295.2Z"/>
<path d="M1359.2,2266.6L1375.5,2294.9L1342.9,2294.9Z"/>
<path d="M1397.6,2266.3L1413.9,2294.5L1381.3,2294.5Z"/>
<path d="M1435.9,2265.9L1452.2,2294.1L1419.6,2294.1Z"/>
<path d="M1474.3,2265.4L1490.6,2293.6L1458.0,2293.6Z"/>
<path d="M1512.7,2264.9L1529.0,2293.1L1496.4,2293.1Z"/>
<path d="M1551.0,2264.4L1567.3,2292.6L1534.7,2292.6Z"/>
<path d="M1589.4,2263.8L1605.7,2292.1L1573.1,2292.1Z"/>
<path d="M1627.8,2263.3L1644.1,2291.5L1611.5,2291.5Z"/>
<path d="M1666.2,2262.7L1682.5,2290.9L1649.9,2290.9Z"/>
<path d="M1704.5,2262.1L1720.8,2290.3L1688.2,2290.3Z"/>
<path d="M1742.9,2261.5L1759.2,2289.7L1726.6,2289.7Z"/>
<path d="M1781.3,2260.9L1797.6,2289.1L1765.0,2289.1Z"/>
<path d="M1819.7,2260.3L1836.0,2288.5L1803.4,2288.5Z"/>
<path d="M1858.0,2259.7L1874.3,2288.0L1841.7,2288.0Z"/>
<path d="M1896.4,2259.1L1912.7,2287.4L1880.1,2287.4Z"/>
</g>
<polyline points="361.5,2238.5 399.9,2238.5 438.2,2232.3 476.6,2220.0 515.0,2207.6 553.4,2195.2 591.7,2182.9 630.1,2164.3 668.5,2152.0 706.9,2133.4 745.2,2121.0 783.6,2108.7 822.0,2096.3 860.3,2083.9 898.7,2077.8 937.1,2071.6 975.5,2065.4 1013.8,2059.2 1052.2,2053.0 1090.6,2053.0 1129.0,2053.0 1167.3,2046.9 1205.7,2046.9 1244.1,2046.9 1282.4,2046.9 1320.8,2046.9 1359.2,2053.0 1397.6,2053.0 1435.9,2053.0 1474.3,2053.0 1512.7,2059.2 1551.0,2059.2 1589.4,2059.2 1627.8,2065.4 1666.2,2065.4 1704.5,2071.6 1742.9,2071.6 1781.3,2071.6 1819.7,2077.8 1858.0,2077.8 1896.4,2077.8" fill="none" stroke="#FF0000" stroke-width="4.2" stroke-linejoin="round" stroke-linecap="round"/>
<g fill="#F5EE96" stroke="#0000FF" stroke-width="2.0">
<circle cx="361.5" cy="2238.5" r="13.9"/>
<circle cx="399.9" cy="2238.5" r="13.9"/>
<circle cx="438.2" cy="2232.3" r="13.9"/>
<circle cx="476.6" cy="2220.0" r="13.9"/>
<circle cx="515.0" cy="2207.6" r="13.9"/>
<circle cx="553.4" cy="2195.2" r="13.9"/>
<circle cx="591.7" cy="2182.9" r="13.9"/>
<circle cx="630.1" cy="2164.3" r="13.9"/>
<circle cx="668.5" cy="2152.0" r="13.9"/>
<circle cx="706.9" cy="2133.4" r="13.9"/>
<circle cx="745.2" cy="2121.0" r="13.9"/>
<circle cx="783.6" cy="2108.7" r="13.9"/>
<circle cx="822.0" cy="2096.3" r="13.9"/>
<circle cx="860.3" cy="2083.9" r="13.9"/>
<circle cx="898.7" cy="2077.8" r="13.9"/>
<circle cx="937.1" cy="2071.6" r="13.9"/>
<circle cx="975.5" cy="2065.4" r="13.9"/>
<circle cx="1013.8" cy="2059.2" r="13.9"/>
<circle cx="1052.2" cy="2053.0" r="13.9"/>
<circle cx="1090.6" cy="2053.0" r="13.9"/>
<circle cx="1129.0" cy="2053.0" r="13.9"/>
<circle cx="1167.3" cy="2046.9" r="13.9"/>
<circle cx="1205.7" cy="2046.9" r="13.9"/>
<circle cx="1244.1" cy="2046.9" r="13.9"/>
<circle cx="1282.4" cy="2046.9" r="13.9"/>
<circle cx="1320.8" cy="2046.9" r="13.9"/>
<circle cx="1359.2" cy="2053.0" r="13.9"/>
<circle cx="1397.6" cy="2053.0" r="13.9"/>
<circle cx="1435.9" cy="2053.0" r="13.9"/>
<circle cx="1474.3" cy="2053.0" r="13.9"/>
<circle cx="1512.7" cy="2059.2" r="13.9"/>
<circle cx="1551.0" cy="2059.2" r="13.9"/>
<circle cx="1589.4" cy="2059.2" r="13.9"/>
<circle cx="1627.8" cy="2065.4" r="13.9"/>
<circle cx="1666.2" cy="2065.4" r="13.9"/>
<circle cx="1704.5" cy="2071.6" r="13.9"/>
<circle cx="1742.9" cy="2071.6" r="13.9"/>
<circle cx="1781.3" cy="2071.6" r="13.9"/>
<circle cx="1819.7" cy="2077.8" r="13.9"/>
<circle cx="1858.0" cy="2077.8" r="13.9"/>
<circle cx="1896.4" cy="2077.8" r="13.9"/>
</g>
<polyline points="361.5,2238.5 399.9,2240.4 438.2,2246.1 476.6,2255.2 515.0,2267.0 553.4,2280.9 591.7,2296.1 630.1,2311.9 668.5,2327.6 706.9,2342.8 745.2,2357.0 783.6,2370.0 822.0,2381.6 860.3,2391.8 898.7,2400.5 937.1,2407.8 975.5,2413.8 1013.8,2418.6 1052.2,2422.4 1090.6,2425.1 1129.0,2427.1 1167.3,2428.2 1205.7,2428.8 1244.1,2428.8 1282.4,2428.3 1320.8,2427.5 1359.2,2426.3 1397.6,2424.9 1435.9,2423.2 1474.3,2421.4 1512.7,2419.4 1551.0,2417.3 1589.4,2415.1 1627.8,2412.8 1666.2,2410.5 1704.5,2408.1 1742.9,2405.8 1781.3,2403.4 1819.7,2401.0 1858.0,2398.7 1896.4,2396.3" fill="none" stroke="#0000FF" stroke-width="4.2" stroke-linejoin="round" stroke-linecap="round"/>
<g fill="#8C9CFF" stroke="#FF0000" stroke-width="2.0" stroke-linejoin="miter">
<path d="M361.5,2219.7L377.8,2247.9L345.2,2247.9Z"/>
<path d="M399.9,2221.6L416.2,2249.9L383.6,2249.9Z"/>
<path d="M438.2,2227.3L454.5,2255.5L421.9,2255.5Z"/>
<path d="M476.6,2236.4L492.9,2264.6L460.3,2264.6Z"/>
<path d="M515.0,2248.2L531.3,2276.4L498.7,2276.4Z"/>
<path d="M553.4,2262.1L569.7,2290.3L537.1,2290.3Z"/>
<path d="M591.7,2277.3L608.0,2305.5L575.4,2305.5Z"/>
<path d="M630.1,2293.1L646.4,2321.3L613.8,2321.3Z"/>
<path d="M668.5,2308.8L684.8,2337.0L652.2,2337.0Z"/>
<path d="M706.9,2324.0L723.2,2352.2L690.6,2352.2Z"/>
<path d="M745.2,2338.2L761.5,2366.4L728.9,2366.4Z"/>
<path d="M783.6,2351.2L799.9,2379.4L767.3,2379.4Z"/>
<path d="M822.0,2362.8L838.3,2391.0L805.7,2391.0Z"/>
<path d="M860.3,2373.0L876.6,2401.2L844.0,2401.2Z"/>
<path d="M898.7,2381.7L915.0,2409.9L882.4,2409.9Z"/>
<path d="M937.1,2389.0L953.4,2417.2L920.8,2417.2Z"/>
<path d="M975.5,2395.0L991.8,2423.2L959.2,2423.2Z"/>
<path d="M1013.8,2399.8L1030.1,2428.0L997.5,2428.0Z"/>
<path d="M1052.2,2403.5L1068.5,2431.8L1035.9,2431.8Z"/>
<path d="M1090.6,2406.3L1106.9,2434.5L1074.3,2434.5Z"/>
<path d="M1129.0,2408.2L1145.2,2436.5L1112.7,2436.5Z"/>
<path d="M1167.3,2409.4L1183.6,2437.6L1151.0,2437.6Z"/>
<path d="M1205.7,2410.0L1222.0,2438.2L1189.4,2438.2Z"/>
<path d="M1244.1,2410.0L1260.4,2438.2L1227.8,2438.2Z"/>
<path d="M1282.4,2409.5L1298.7,2437.8L1266.1,2437.8Z"/>
<path d="M1320.8,2408.7L1337.1,2436.9L1304.5,2436.9Z"/>
<path d="M1359.2,2407.5L1375.5,2435.7L1342.9,2435.7Z"/>
<path d="M1397.6,2406.1L1413.9,2434.3L1381.3,2434.3Z"/>
<path d="M1435.9,2404.4L1452.2,2432.6L1419.6,2432.6Z"/>
<path d="M1474.3,2402.5L1490.6,2430.8L1458.0,2430.8Z"/>
<path d="M1512.7,2400.5L1529.0,2428.8L1496.4,2428.8Z"/>
<path d="M1551.0,2398.4L1567.3,2426.7L1534.7,2426.7Z"/>
<path d="M1589.4,2396.2L1605.7,2424.5L1573.1,2424.5Z"/>
<path d="M1627.8,2394.0L1644.1,2422.2L1611.5,2422.2Z"/>
<path d="M1666.2,2391.7L1682.5,2419.9L1649.9,2419.9Z"/>
<path d="M1704.5,2389.3L1720.8,2417.6L1688.2,2417.6Z"/>
<path d="M1742.9,2387.0L1759.2,2415.2L1726.6,2415.2Z"/>
<path d="M1781.3,2384.6L1797.6,2412.8L1765.0,2412.8Z"/>
<path d="M1819.7,2382.2L1836.0,2410.5L1803.4,2410.5Z"/>
<path d="M1858.0,2379.9L1874.3,2408.1L1841.7,2408.1Z"/>
<path d="M1896.4,2377.5L1912.7,2405.8L1880.1,2405.8Z"/>
</g>
<polyline points="361.5,2238.5 399.9,2232.3 438.2,2220.0 476.6,2201.4 515.0,2176.7 553.4,2145.8 591.7,2108.7 630.1,2071.6 668.5,2040.7 706.9,2003.6 745.2,1972.7 783.6,1941.8 822.0,1917.0 860.3,1892.3 898.7,1873.8 937.1,1855.2 975.5,1842.9 1013.8,1830.5 1052.2,1824.3 1090.6,1818.1 1129.0,1811.9 1167.3,1811.9 1205.7,1811.9 1244.1,1811.9 1282.4,1811.9 1320.8,1811.9 1359.2,1818.1 1397.6,1818.1 1435.9,1824.3 1474.3,1824.3 1512.7,1830.5 1551.0,1836.7 1589.4,1842.9 1627.8,1849.0 1666.2,1849.0 1704.5,1855.2 1742.9,1861.4 1781.3,1867.6 1819.7,1873.8 1858.0,1879.9 1896.4,1886.1" fill="none" stroke="#FF0000" stroke-width="4.2" stroke-linejoin="round" stroke-linecap="round"/>
<g fill="#F5EE96" stroke="#0000FF" stroke-width="2.0">
<circle cx="361.5" cy="2238.5" r="13.9"/>
<circle cx="399.9" cy="2232.3" r="13.9"/>
<circle cx="438.2" cy="2220.0" r="13.9"/>
<circle cx="476.6" cy="2201.4" r="13.9"/>
<circle cx="515.0" cy="2176.7" r="13.9"/>
<circle cx="553.4" cy="2145.8" r="13.9"/>
<circle cx="591.7" cy="2108.7" r="13.9"/>
<circle cx="630.1" cy="2071.6" r="13.9"/>
<circle cx="668.5" cy="2040.7" r="13.9"/>
<circle cx="706.9" cy="2003.6" r="13.9"/>
<circle cx="745.2" cy="1972.7" r="13.9"/>
<circle cx="783.6" cy="1941.8" r="13.9"/>
<circle cx="822.0" cy="1917.0" r="13.9"/>
<circle cx="860.3" cy="1892.3" r="13.9"/>
<circle cx="898.7" cy="1873.8" r="13.9"/>
<circle cx="937.1" cy="1855.2" r="13.9"/>
<circle cx="975.5" cy="1842.9" r="13.9"/>
<circle cx="1013.8" cy="1830.5" r="13.9"/>
<circle cx="1052.2" cy="1824.3" r="13.9"/>
<circle cx="1090.6" cy="1818.1" r="13.9"/>
<circle cx="1129.0" cy="1811.9" r="13.9"/>
<circle cx="1167.3" cy="1811.9" r="13.9"/>
<circle cx="1205.7" cy="1811.9" r="13.9"/>
<circle cx="1244.1" cy="1811.9" r="13.9"/>
<circle cx="1282.4" cy="1811.9" r="13.9"/>
<circle cx="1320.8" cy="1811.9" r="13.9"/>
<circle cx="1359.2" cy="1818.1" r="13.9"/>
<circle cx="1397.6" cy="1818.1" r="13.9"/>
<circle cx="1435.9" cy="1824.3" r="13.9"/>
<circle cx="1474.3" cy="1824.3" r="13.9"/>
<circle cx="1512.7" cy="1830.5" r="13.9"/>
<circle cx="1551.0" cy="1836.7" r="13.9"/>
<circle cx="1589.4" cy="1842.9" r="13.9"/>
<circle cx="1627.8" cy="1849.0" r="13.9"/>
<circle cx="1666.2" cy="1849.0" r="13.9"/>
<circle cx="1704.5" cy="1855.2" r="13.9"/>
<circle cx="1742.9" cy="1861.4" r="13.9"/>
<circle cx="1781.3" cy="1867.6" r="13.9"/>
<circle cx="1819.7" cy="1873.8" r="13.9"/>
<circle cx="1858.0" cy="1879.9" r="13.9"/>
<circle cx="1896.4" cy="1886.1" r="13.9"/>
</g>
<polyline points="361.5,2238.5 399.9,2242.9 438.2,2255.7 476.6,2276.0 515.0,2302.6 553.4,2333.9 591.7,2368.1 630.1,2403.6 668.5,2439.0 706.9,2473.2 745.2,2505.2 783.6,2534.4 822.0,2560.5 860.3,2583.4 898.7,2603.0 937.1,2619.4 975.5,2633.0 1013.8,2643.8 1052.2,2652.2 1090.6,2658.4 1129.0,2662.7 1167.3,2665.4 1205.7,2666.7 1244.1,2666.7 1282.4,2665.6 1320.8,2663.7 1359.2,2661.1 1397.6,2657.9 1435.9,2654.1 1474.3,2649.9 1512.7,2645.5 1551.0,2640.7 1589.4,2635.8 1627.8,2630.7 1666.2,2625.5 1704.5,2620.2 1742.9,2614.9 1781.3,2609.5 1819.7,2604.2 1858.0,2598.9 1896.4,2593.7" fill="none" stroke="#0000FF" stroke-width="4.2" stroke-linejoin="round" stroke-linecap="round"/>
<g fill="#8C9CFF" stroke="#FF0000" stroke-width="2.0" stroke-linejoin="miter">
<path d="M361.5,2219.7L377.8,2247.9L345.2,2247.9Z"/>
<path d="M399.9,2224.0L416.2,2252.3L383.6,2252.3Z"/>
<path d="M438.2,2236.8L454.5,2265.1L421.9,2265.1Z"/>
<path d="M476.6,2257.2L492.9,2285.4L460.3,2285.4Z"/>
<path d="M515.0,2283.8L531.3,2312.0L498.7,2312.0Z"/>
<path d="M553.4,2315.0L569.7,2343.3L537.1,2343.3Z"/>
<path d="M591.7,2349.2L608.0,2377.5L575.4,2377.5Z"/>
<path d="M630.1,2384.8L646.4,2413.0L613.8,2413.0Z"/>
<path d="M668.5,2420.2L684.8,2448.4L652.2,2448.4Z"/>
<path d="M706.9,2454.4L723.2,2482.6L690.6,2482.6Z"/>
<path d="M745.2,2486.4L761.5,2514.6L728.9,2514.6Z"/>
<path d="M783.6,2515.6L799.9,2543.8L767.3,2543.8Z"/>
<path d="M822.0,2541.7L838.3,2569.9L805.7,2569.9Z"/>
<path d="M860.3,2564.6L876.6,2592.8L844.0,2592.8Z"/>
<path d="M898.7,2584.2L915.0,2612.4L882.4,2612.4Z"/>
<path d="M937.1,2600.6L953.4,2628.8L920.8,2628.8Z"/>
<path d="M975.5,2614.1L991.8,2642.4L959.2,2642.4Z"/>
<path d="M1013.8,2625.0L1030.1,2653.2L997.5,2653.2Z"/>
<path d="M1052.2,2633.4L1068.5,2661.6L1035.9,2661.6Z"/>
<path d="M1090.6,2639.6L1106.9,2667.8L1074.3,2667.8Z"/>
<path d="M1129.0,2643.9L1145.2,2672.1L1112.7,2672.1Z"/>
<path d="M1167.3,2646.6L1183.6,2674.8L1151.0,2674.8Z"/>
<path d="M1205.7,2647.8L1222.0,2676.1L1189.4,2676.1Z"/>
<path d="M1244.1,2647.8L1260.4,2676.1L1227.8,2676.1Z"/>
<path d="M1282.4,2646.8L1298.7,2675.1L1266.1,2675.1Z"/>
<path d="M1320.8,2644.9L1337.1,2673.2L1304.5,2673.2Z"/>
<path d="M1359.2,2642.3L1375.5,2670.5L1342.9,2670.5Z"/>
<path d="M1397.6,2639.0L1413.9,2667.3L1381.3,2667.3Z"/>
<path d="M1435.9,2635.3L1452.2,2663.5L1419.6,2663.5Z"/>
<path d="M1474.3,2631.1L1490.6,2659.4L1458.0,2659.4Z"/>
<path d="M1512.7,2626.6L1529.0,2654.9L1496.4,2654.9Z"/>
<path d="M1551.0,2621.9L1567.3,2650.1L1534.7,2650.1Z"/>
<path d="M1589.4,2616.9L1605.7,2645.2L1573.1,2645.2Z"/>
<path d="M1627.8,2611.8L1644.1,2640.1L1611.5,2640.1Z"/>
<path d="M1666.2,2606.6L1682.5,2634.9L1649.9,2634.9Z"/>
<path d="M1704.5,2601.4L1720.8,2629.6L1688.2,2629.6Z"/>
<path d="M1742.9,2596.1L1759.2,2624.3L1726.6,2624.3Z"/>
<path d="M1781.3,2590.7L1797.6,2619.0L1765.0,2619.0Z"/>
<path d="M1819.7,2585.4L1836.0,2613.6L1803.4,2613.6Z"/>
<path d="M1858.0,2580.1L1874.3,2608.3L1841.7,2608.3Z"/>
<path d="M1896.4,2574.8L1912.7,2603.1L1880.1,2603.1Z"/>
</g>
<text x="1047.8" y="1774.8" font-family="'Noto Serif CJK SC', 'Noto Serif CJK JP', 'Liberation Serif', serif" font-size="62.5" font-weight="600">λ</text>
<text transform="translate(1086.5,1774.8) scale(1.0,1.015)" font-family="Liberation Sans, Arial, sans-serif" font-size="72.7" font-weight="normal" text-anchor="start" >=0.03</text>
<text x="1047.8" y="2011.9" font-family="'Noto Serif CJK SC', 'Noto Serif CJK JP', 'Liberation Serif', serif" font-size="62.5" font-weight="600">λ</text>
<text transform="translate(1086.5,2011.9) scale(1.0,1.015)" font-family="Liberation Sans, Arial, sans-serif" font-size="72.7" font-weight="normal" text-anchor="start" >=0.02</text>
<text x="1048.7" y="2155.3" font-family="'Noto Serif CJK SC', 'Noto Serif CJK JP', 'Liberation Serif', serif" font-size="62.5" font-weight="600">λ</text>
<text transform="translate(1087.4,2155.3) scale(1.0,1.015)" font-family="Liberation Sans, Arial, sans-serif" font-size="72.7" font-weight="normal" text-anchor="start" >=0.01</text>
<g transform="translate(1087.4,2155.3) scale(1.0,1.015)" fill="#fff"><rect x="147.39" y="-7.10" width="14.38" height="8.70"/><rect x="168.19" y="-7.10" width="13.81" height="8.70"/></g>
<text x="1047.8" y="2372.3" font-family="'Noto Serif CJK SC', 'Noto Serif CJK JP', 'Liberation Serif', serif" font-size="62.5" font-weight="600">λ</text>
<text transform="translate(1086.5,2372.3) scale(1.0,1.015)" font-family="Liberation Sans, Arial, sans-serif" font-size="72.7" font-weight="normal" text-anchor="start" >=0.01</text>
<g transform="translate(1086.5,2372.3) scale(1.0,1.015)" fill="#fff"><rect x="147.39" y="-7.10" width="14.38" height="8.70"/><rect x="168.19" y="-7.10" width="13.81" height="8.70"/></g>
<text x="1047.8" y="2523.8" font-family="'Noto Serif CJK SC', 'Noto Serif CJK JP', 'Liberation Serif', serif" font-size="62.5" font-weight="600">λ</text>
<text transform="translate(1086.5,2523.8) scale(1.0,1.015)" font-family="Liberation Sans, Arial, sans-serif" font-size="72.7" font-weight="normal" text-anchor="start" >=0.02</text>
<text x="1045.6" y="2757.3" font-family="'Noto Serif CJK SC', 'Noto Serif CJK JP', 'Liberation Serif', serif" font-size="62.5" font-weight="600">λ</text>
<text transform="translate(1084.3,2757.3) scale(1.0,1.015)" font-family="Liberation Sans, Arial, sans-serif" font-size="72.7" font-weight="normal" text-anchor="start" >=0.03</text>
<g transform="translate(-1112.2,2467.8)">
<rect x="1512.8" y="92.8" width="351.5" height="258.3" fill="#fff" stroke="#000" stroke-width="4.7"/>
<line x1="1543.0" y1="154.6" x2="1683.1" y2="154.6" stroke="#FF0000" stroke-width="4.2" stroke-linecap="round"/>
<circle cx="1612.9" cy="154.6" r="13.9" fill="#F5EE96" stroke="#0000FF" stroke-width="2.0"/>
<line x1="1543.0" y1="277.8" x2="1683.1" y2="277.8" stroke="#0000FF" stroke-width="4.2" stroke-linecap="round"/>
<g fill="#8C9CFF" stroke="#FF0000" stroke-width="2.0">
<path d="M1612.9,259.0L1629.2,287.2L1596.6,287.2Z"/>
</g>
<text transform="translate(1704.6,166.2) scale(1.05,1.0)" font-family="Liberation Serif, Times New Roman, serif" font-size="78" font-weight="normal" text-anchor="start" >ω</text>
<text transform="translate(1757.5,186.5)" font-family="Liberation Sans, Arial, sans-serif" font-size="53.5">p,+</text>
<text transform="translate(1704.6,289.6) scale(1.05,1.0)" font-family="Liberation Serif, Times New Roman, serif" font-size="78" font-weight="normal" text-anchor="start" >ω</text>
<text transform="translate(1757.5,309.9)" font-family="Liberation Sans, Arial, sans-serif" font-size="53.5">p,<tspan dy="4.3" stroke="#000" stroke-width="1.2">−</tspan></text>
</g>
<text transform="translate(410.2,1735.5) scale(1.0,1.0)" font-family="Liberation Sans, Arial, sans-serif" font-size="87.3" font-weight="bold" text-anchor="start" >(b)</text>
<text transform="translate(79.1,2607.8) rotate(-90) scale(1,1.033)" font-family="Liberation Sans, Arial, sans-serif" font-size="87.4" text-anchor="start">Angular Frequency</text>
<text transform="translate(1128.5,3058.9) scale(1.0,1.0)" font-family="Liberation Serif, Times New Roman, serif" font-size="107" font-weight="normal" text-anchor="middle" >Δ</text>
</svg>
</body></html>
